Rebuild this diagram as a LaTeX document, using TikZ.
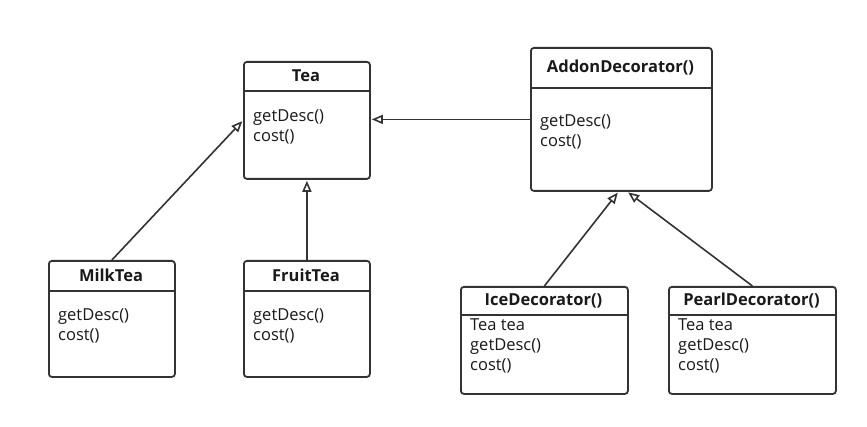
\documentclass[tikz,border=0pt]{standalone}
\usepackage{fontspec}
\setmainfont{Open Sans}
\usetikzlibrary{arrows.meta,calc}

\begin{document}
\begin{tikzpicture}[x=1pt, y=-1pt,
    umlbox/.style={draw=black!80, line width=1.8pt, rounded corners=3pt, fill=white, inner sep=0pt},
    umltext/.style={font=\fontsize{16.5}{20}\selectfont, text=black!90, inner sep=0pt, align=left},
    inherit/.style={draw=black!80, line width=1.6pt, shorten >=1pt, -{Triangle[open, length=11pt, width=9pt]}}]
  \useasboundingbox (0,0) rectangle (867,427);
  \foreach \name/\x/\y/\w/\h/\hd/\pad/\title/\body in {
      tea/243/61/126/117/30/19/Tea/{getDesc()\\cost()},
      addon/530/47/181/143/41/27/AddonDecorator()/{getDesc()\\cost()},
      milk/48/260/126/116/31/18/MilkTea/{getDesc()\\cost()},
      fruit/243/260/126/116/31/18/FruitTea/{getDesc()\\cost()},
      ice/460/286/167/107/29/4/IceDecorator()/{Tea tea\\getDesc()\\cost()},
      pearl/668/286/167/107/29/4/PearlDecorator()/{Tea tea\\getDesc()\\cost()}} {
    \node[umlbox, anchor=north west, minimum width=\w pt, minimum height=\h pt] (\name) at (\x,\y) {};
    \draw[black!80, line width=1.8pt] (\x,\y+\hd) -- (\x+\w,\y+\hd);
    \node[umltext, font=\fontsize{16.5}{20}\selectfont\bfseries] (\name-title) at (\x+\w/2,\y+\hd/2) {\title};
    \node[umltext, anchor=north west] (\name-body) at (\x+10,\y+\hd+\pad) {\body};
  }
  % generalisation arrows
  \draw[inherit] (milk.north) -- (tea.west);
  \draw[inherit] (fruit.north) -- (tea.south);
  \draw[inherit] (addon.west) -- (addon.west -| tea.east);
  \draw[inherit] (ice.north) -- ([xshift=-3pt]addon.south);
  \draw[inherit] (pearl.north) -- ([xshift=6pt]addon.south);
\end{tikzpicture}
\end{document}
